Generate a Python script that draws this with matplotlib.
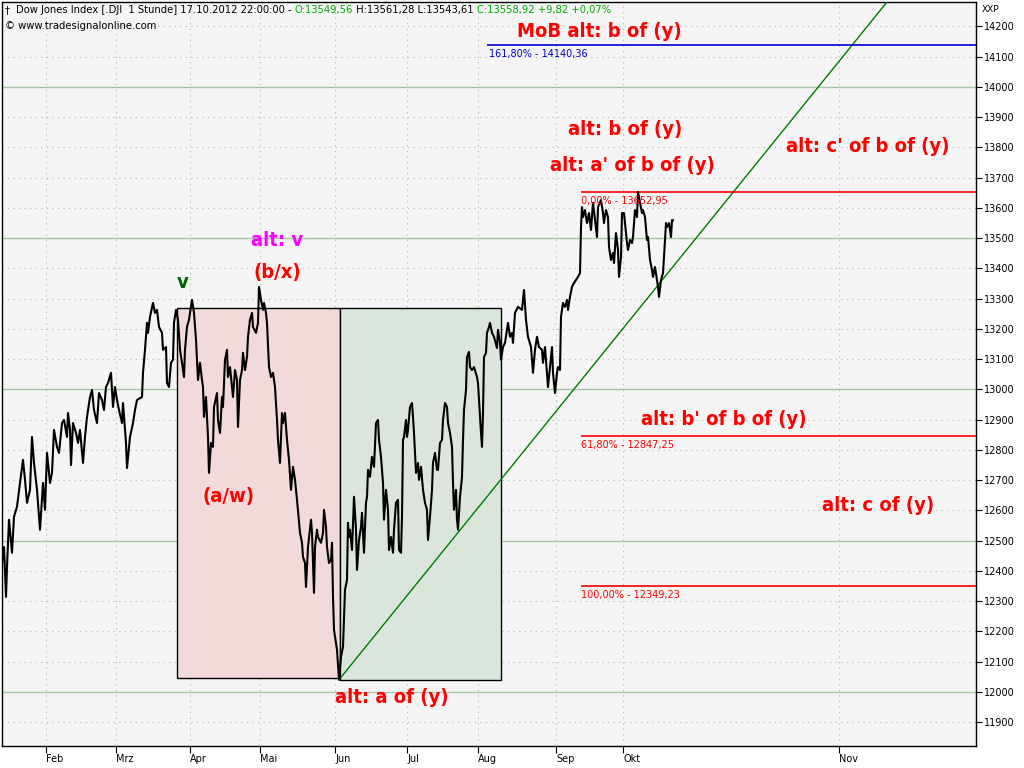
import matplotlib
matplotlib.use("Agg")
import matplotlib.pyplot as plt
from matplotlib.patches import Rectangle

# ---------------- data ----------------
# hourly bar position (chart time units) and Dow Jones close
bar_pos = [2, 4, 6, 7, 9, 12, 14, 17, 20, 23, 25, 27, 30, 32, 34, 37, 40, 43, 45, 47,
           50, 52, 54, 57, 59, 62, 64, 67, 68, 70, 71, 73, 76, 78, 80, 83, 85, 87, 90, 92,
           94, 97, 99, 102, 104, 106, 108, 111, 113, 115, 117, 119, 122, 123, 126, 127, 130, 133, 135, 137,
           142, 143, 145, 147, 148, 150, 153, 155, 157, 159, 162, 163, 166, 167, 169, 171, 173, 174, 176, 178,
           180, 182, 184, 185, 187, 189, 191, 192, 194, 196, 198, 200, 202, 203, 204, 206, 208, 209, 211, 213,
           214, 217, 218, 220, 222, 223, 225, 227, 228, 230, 232, 233, 235, 237, 238, 240, 242, 243, 245, 247,
           248, 250, 252, 253, 256, 258, 259, 261, 263, 264, 266, 267, 269, 271, 273, 275, 277, 278, 280, 282,
           283, 285, 287, 289, 291, 293, 295, 297, 300, 302, 303, 305, 306, 308, 311, 312, 314, 315, 317, 318,
           321, 323, 324, 326, 327, 329, 331, 332, 333, 334, 336, 337, 339, 341, 343, 345, 347, 348, 349, 350,
           352, 353, 354, 356, 357, 359, 361, 362, 364, 366, 367, 368, 370, 372, 374, 376, 378, 379, 381, 383,
           384, 386, 388, 389, 391, 393, 394, 396, 398, 399, 401, 402, 403, 404, 406, 407, 408, 410, 412, 413,
           414, 416, 418, 419, 421, 423, 425, 427, 428, 430, 432, 433, 435, 437, 438, 440, 442, 443, 445, 447,
           448, 450, 452, 453, 454, 456, 457, 458, 460, 462, 463, 464, 466, 467, 469, 470, 472, 474, 477, 478,
           479, 481, 482, 483, 484, 486, 487, 489, 490, 492, 494, 497, 498, 500, 501, 503, 505, 507, 508, 510,
           512, 513, 515, 518, 522, 524, 526, 528, 531, 533, 535, 537, 539, 542, 543, 545, 548, 550, 552, 553,
           555, 557, 558, 560, 561, 563, 565, 567, 568, 570, 572, 574, 576, 578, 580, 581, 582, 583, 585, 587,
           589, 591, 593, 595, 597, 598, 601, 603, 604, 606, 608, 609, 611, 613, 614, 616, 618, 619, 621, 622,
           624, 625, 627, 628, 630, 632, 633, 635, 637, 638, 640, 642, 643, 645, 647, 648, 650, 652, 653, 655,
           657, 658, 659, 661, 663, 664, 666, 667, 669, 671, 672, 673]
close = [12426, 12479, 12314, 12413, 12569, 12460, 12579, 12612, 12691, 12767, 12701, 12625, 12668, 12843, 12757, 12668, 12536, 12691, 12602, 12790,
         12691, 12724, 12866, 12810, 12790, 12889, 12899, 12843, 12922, 12866, 12750, 12889, 12856, 12823, 12866, 12757, 12843, 12909, 12975, 12998,
         12932, 12889, 12988, 12965, 12932, 13008, 13021, 13055, 12942, 13008, 12965, 12932, 12889, 12955, 12823, 12740, 12843, 12889, 12932, 12965,
         12975, 13055, 13131, 13220, 13187, 13240, 13286, 13253, 13263, 13207, 13187, 13131, 13140, 13021, 13008, 13088, 13098, 13220, 13263, 13230,
         13131, 13088, 13041, 13131, 13207, 13230, 13273, 13296, 13253, 13164, 13031, 13088, 13031, 13008, 12909, 12975, 12843, 12724, 12823, 12810,
         12942, 12988, 12899, 12856, 12975, 12942, 13098, 13131, 13041, 13074, 13008, 12975, 13064, 13031, 12876, 13031, 13064, 13121, 13064, 13107,
         13174, 13230, 13253, 13207, 13187, 13220, 13339, 13296, 13263, 13286, 13253, 13220, 13074, 13041, 13055, 13008, 12899, 12833, 12757, 12922,
         12889, 12922, 12833, 12767, 12668, 12744, 12701, 12635, 12526, 12493, 12446, 12426, 12347, 12479, 12569, 12526, 12327, 12479, 12536, 12512,
         12493, 12526, 12602, 12545, 12479, 12426, 12436, 12493, 12314, 12205, 12162, 12139, 12040, 12116, 12149, 12337, 12370, 12559, 12512, 12536,
         12469, 12559, 12645, 12536, 12403, 12502, 12545, 12592, 12460, 12625, 12645, 12734, 12711, 12777, 12744, 12889, 12899, 12833, 12777, 12691,
         12569, 12668, 12602, 12469, 12512, 12460, 12536, 12625, 12635, 12469, 12460, 12579, 12833, 12843, 12899, 12843, 12866, 12942, 12955, 12909,
         12856, 12724, 12757, 12701, 12744, 12668, 12625, 12602, 12502, 12579, 12668, 12757, 12790, 12734, 12734, 12823, 12833, 12899, 12955, 12942,
         12889, 12856, 12810, 12691, 12602, 12668, 12569, 12536, 12645, 12711, 12833, 12932, 12998, 13107, 13124, 13074, 13064, 13074, 13041, 13021,
         12965, 12856, 12810, 12922, 13107, 13121, 13187, 13207, 13220, 13187, 13174, 13137, 13197, 13154, 13098, 13140, 13154, 13197, 13220, 13174,
         13187, 13154, 13253, 13273, 13263, 13329, 13230, 13174, 13140, 13055, 13131, 13174, 13140, 13131, 13088, 13140, 13008, 13074, 13140, 13055,
         12988, 13055, 13074, 13064, 13240, 13286, 13273, 13296, 13263, 13306, 13339, 13352, 13362, 13372, 13385, 13537, 13603, 13570, 13593, 13550,
         13583, 13527, 13617, 13560, 13504, 13603, 13626, 13583, 13550, 13593, 13570, 13471, 13428, 13451, 13418, 13517, 13461, 13372, 13438, 13583,
         13583, 13550, 13484, 13461, 13494, 13484, 13504, 13593, 13570, 13653, 13617, 13583, 13593, 13570, 13494, 13504, 13428, 13395, 13372, 13405,
         13362, 13339, 13306, 13362, 13385, 13438, 13550, 13537, 13550, 13504, 13560, 13559]

month_labels = ["Feb", "Mrz", "Apr", "Mai", "Jun", "Jul", "Aug", "Sep", "Okt", "Nov"]
month_pos = [46, 116, 190, 260, 335, 407, 478, 556, 623, 839]

fib_levels = [13652.95, 12847.25, 12349.23]
fib_texts = ["0,00% - 13652,95", "61,80% - 12847,25", "100,00% - 12349,23"]
fib_ext_level = 14140.36
fib_ext_text = "161,80% - 14140,36"

# wave boxes: (start, end, low, high)
box_red = (177, 340, 12046, 13269)
box_green = (340, 501, 12040, 13269)
# trend line through the June low
trend_x = [339, 976]
trend_y = [12040, 14645]

wave_labels = ["MoB alt: b of (y)", "alt: b of (y)", "alt: a' of b of (y)",
               "alt: c' of b of (y)", "alt: b' of b of (y)", "alt: c of (y)",
               "alt: a of (y)", "(a/w)", "(b/x)", "alt: v", "v"]
wave_x = [599, 625, 632, 868, 724, 878, 392, 228, 277, 277, 183]
wave_y = [14185, 13858, 13742, 13802, 12899, 12615, 11980, 12645, 13388, 13494, 13355]
wave_colors = ["red"] * 9 + ["#ff00ff", "#006400"]

# ---------------- figure ----------------
W, H = 1024, 768
fig = plt.figure(figsize=(W / 100, H / 100), dpi=100, facecolor="white")
ax = fig.add_axes([2 / W, (H - 746) / H, 974 / W, 744 / H])
ax.set_facecolor("#f5f5f5")
ax.set_xlim(2, 976)
ax.set_ylim(11821, 14281)

# grid
for lvl in range(11900, 14300, 100):
    if lvl % 500 == 0:
        ax.axhline(lvl, color="#a8c4a8", lw=1.0, zorder=1)
    else:
        ax.axhline(lvl, color="#b4b4b4", lw=0.8, ls=(0, (1, 4)), zorder=1)
for p in month_pos:
    ax.axvline(p, color="#9cbf9c", lw=0.8, ls=(0, (1, 4)), zorder=1)

# boxes
for (x0, x1, lo, hi), fc in [(box_red, "#f2dada"), (box_green, "#dce5dc")]:
    ax.add_patch(Rectangle((x0, lo), x1 - x0, hi - lo, facecolor=fc,
                           edgecolor="black", lw=1.0, zorder=2))

# trend line
ax.plot(trend_x, trend_y, color="#007a00", lw=1.0, zorder=3)

# fib lines
for lvl, txt in zip(fib_levels, fib_texts):
    ax.hlines(lvl, 581, 976, color="red", lw=1.2, zorder=3)
    ax.text(581, lvl - 14, txt, color="red", fontsize=7, va="top", ha="left", zorder=5)
ax.hlines(fib_ext_level, 487, 976, color="#0000cc", lw=1.2, zorder=3)
ax.text(489, fib_ext_level - 14, fib_ext_text, color="#0000cc", fontsize=7,
        va="top", ha="left", zorder=5)

# price
ax.plot(bar_pos, close, color="black", lw=1.5, zorder=4)

# wave labels
for txt, x, y, c in zip(wave_labels, wave_x, wave_y, wave_colors):
    ax.text(x, y, txt, color=c, fontsize=14.5, fontweight="bold",
            fontstretch="condensed", family="DejaVu Sans",
            ha="center", va="center", zorder=6)

# axes styling
for s in ax.spines.values():
    s.set_color("black")
    s.set_linewidth(1.0)
ax.yaxis.tick_right()
ax.set_yticks(range(11900, 14300, 100))
ax.set_yticklabels([str(v) for v in range(11900, 14300, 100)])
ax.tick_params(axis="y", direction="out", length=4, width=0.8, pad=2,
               labelsize=7, colors="black")
ax.set_xticks(month_pos)
ax.set_xticklabels(month_labels, ha="left")
ax.tick_params(axis="x", direction="out", length=5, width=0.8, pad=1,
               labelsize=7, colors="black")
fig.text(982 / W, 1 - 9 / H, "XXP", fontsize=6.5, ha="left", va="center")

# header
fig.canvas.draw()
renderer = fig.canvas.get_renderer()
parts = [("Dow Jones Index [.DJI  1 Stunde] 17.10.2012 22:00:00 - ", "black"),
         ("O:13549,56", "#00aa00"), (" H:13561,28 L:13543,61 ", "black"),
         ("C:13558,92 +9,82 +0,07%", "#00aa00")]
xpix = 16
for txt, col in parts:
    t = fig.text(xpix / W, 1 - 10 / H, txt, color=col, fontsize=7.2, ha="left", va="center")
    bb = t.get_window_extent(renderer=renderer)
    xpix += bb.width
fig.text(5 / W, 1 - 10 / H, "\u2020", fontsize=7, ha="left", va="center")
fig.text(5 / W, 1 - 26 / H, "\u00a9 www.tradesignalonline.com", fontsize=7.2,
         ha="left", va="center")

fig.savefig("out.png", dpi=100, facecolor="white")
